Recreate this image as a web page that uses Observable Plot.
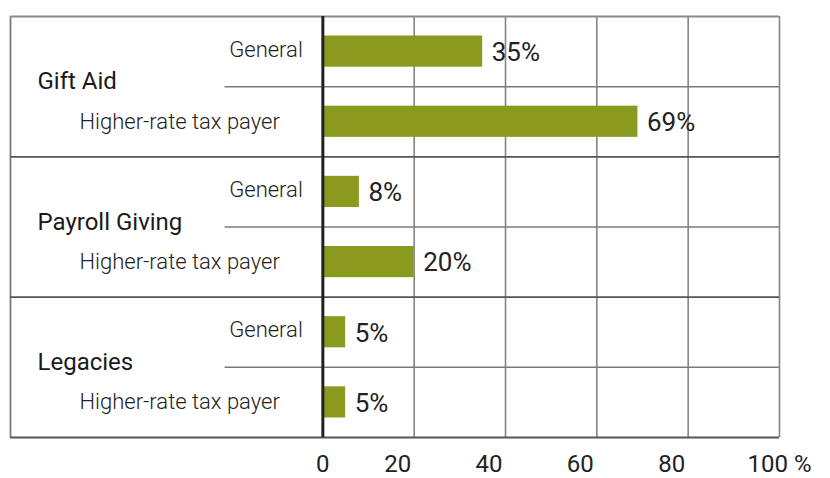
<!DOCTYPE html>
<html>
<head>
<meta charset="utf-8">
<script src="https://cdn.jsdelivr.net/npm/d3@7"></script>
<script src="https://cdn.jsdelivr.net/npm/@observablehq/plot@0.6"></script>
<style>
  html, body { margin: 0; padding: 0; background: #fff; }
  #chart svg { display: block; }
</style>
</head>
<body>
<div id="chart"></div>
<script>
// ---- data ----
const groups = ["Gift Aid", "Payroll Giving", "Legacies"];
const subcategories = ["General", "Higher-rate tax payer"];
const values = [35, 69, 8, 20, 5, 5];          // percent, in row order
const tickValues = [0, 20, 40, 60, 80, 100];
const tickLabels = ["0", "20", "40", "60", "80", "100 %"];

// ---- table built from the arrays ----
const rows = groups.flatMap((g, gi) =>
  subcategories.map((s, si) => ({
    group: g, sub: s, row: gi * 2 + si, value: values[gi * 2 + si]
  }))
);
const groupRows = groups.map((g, gi) => ({group: g, boundary: gi * 2 + 1}));
const ticks = tickValues.map((v, i) => ({v, label: tickLabels[i]}));

const xLeft = -68.4;   // left edge of the label column, in x units
const xSubLine = -21.4; // where the sub-row dividers start
const nRows = rows.length;

const textColor = "#222";
const gridColor = "#858585";

const chart = Plot.plot({
  width: 830,
  height: 478,
  marginTop: 16,
  marginBottom: 41,
  marginLeft: 10,
  marginRight: 51,
  x: {domain: [xLeft, 100], axis: null},
  y: {domain: [0, nRows], reverse: true, axis: null},
  style: {fontFamily: "Roboto, 'Open Sans', sans-serif", background: "#fff"},
  marks: [
    // vertical grid lines
    Plot.ruleX(tickValues.filter(v => v > 0), {stroke: gridColor, strokeWidth: 1.6}),
    // left border
    Plot.ruleX([xLeft], {stroke: "#7a7a7a", strokeWidth: 1.8}),
    // sub-row dividers
    Plot.ruleY(groupRows, {y: "boundary", x1: xSubLine, x2: 100, stroke: "#7a7a7a", strokeWidth: 1.5}),
    // top border
    Plot.ruleY([0], {x1: xLeft, x2: 100, stroke: "#8a8a8a", strokeWidth: 1.8}),
    // group separators and bottom border
    Plot.ruleY(groupRows, {y: d => d.boundary + 1, x1: xLeft, x2: 100, stroke: "#555", strokeWidth: 1.8}),
    // bars
    Plot.rect(rows, {
      x1: 0, x2: "value",
      y1: "row", y2: d => d.row + 1,
      insetTop: 19.5, insetBottom: 19.5,
      fill: "#899a1e"
    }),
    // zero line
    Plot.ruleX([0], {stroke: "#222", strokeWidth: 3}),
    // value labels
    Plot.text(rows, {
      x: "value", y: d => d.row + 0.5, text: d => `${d.value}%`,
      textAnchor: "start", dx: 9, dy: 1, fontSize: 26, fill: textColor
    }),
    // sub-category labels
    Plot.text(rows.filter(d => d.sub === "General"), {
      x: 0, y: d => d.row + 0.5, text: "sub",
      textAnchor: "end", dx: -20, dy: -2, fontSize: 22, fontWeight: 300, fill: textColor
    }),
    Plot.text(rows.filter(d => d.sub !== "General"), {
      x: 0, y: d => d.row + 0.5, text: "sub",
      textAnchor: "end", dx: -43, dy: 0, fontSize: 22, fontWeight: 300, fill: textColor
    }),
    // group labels
    Plot.text(groupRows, {
      x: xLeft, y: "boundary", text: "group",
      textAnchor: "start", dx: 27, dy: -5, fontSize: 24, fontWeight: 400, fill: "#1a1a1a"
    }),
    // x tick labels
    Plot.text(ticks.filter(d => d.v === 0), {
      x: "v", y: nRows, text: "label", textAnchor: "middle", dy: 27, fontSize: 24, fill: textColor
    }),
    Plot.text(ticks.filter(d => d.v > 0 && d.v < 100), {
      x: "v", y: nRows, text: "label", textAnchor: "end", dx: -3, dy: 27, fontSize: 24, fill: textColor
    }),
    Plot.text(ticks.filter(d => d.v === 100), {
      x: "v", y: nRows, text: "label", textAnchor: "start", dx: -32, dy: 27, fontSize: 24, fill: textColor
    })
  ]
});
document.getElementById("chart").appendChild(chart);
</script>
</body>
</html>
